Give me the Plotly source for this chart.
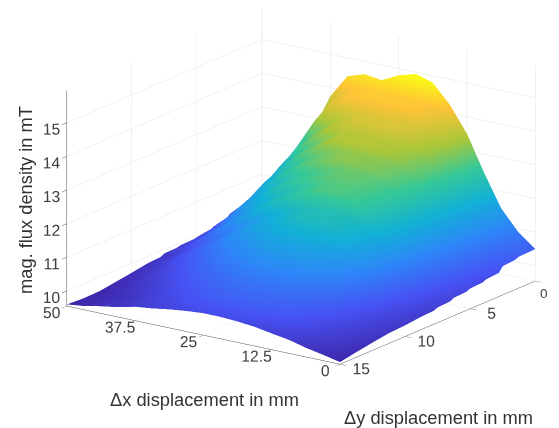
import plotly.graph_objects as go

x_mm = [0, 3.125, 6.25, 9.375, 12.5, 15.625, 18.75, 21.875, 25, 28.125, 31.25, 34.375, 37.5, 40.625, 43.75, 46.875, 50]
y_mm = [0, 0.3, 1.25, 1.55, 2.5, 2.8, 3.75, 4.05, 5, 5.3, 6.25, 6.55, 7.5, 7.8, 8.75, 10, 11.25, 12.5, 13.75, 15]
b_mT = [
    [10.50,10.90,11.50,12.45,13.50,14.25,14.80,14.95,14.80,14.55,14.62,14.45,13.75,12.65,11.85,11.05,10.40],
    [10.49,10.88,11.47,12.33,13.24,13.82,14.14,14.24,14.28,14.28,14.23,13.98,13.26,12.40,11.64,10.88,10.34],
    [10.48,10.85,11.45,12.30,13.20,13.75,14.05,14.15,14.20,14.20,14.15,13.90,13.20,12.35,11.60,10.85,10.32],
    [10.43,10.80,11.37,12.18,13.05,13.56,13.80,13.88,13.83,13.78,13.58,13.22,12.70,12.04,11.33,10.72,10.24],
    [10.40,10.78,11.35,12.15,13.00,13.50,13.72,13.80,13.75,13.70,13.50,13.15,12.65,12.00,11.30,10.70,10.22],
    [10.25,10.72,11.27,12.08,12.85,13.26,13.49,13.52,13.52,13.47,13.17,12.81,12.30,11.74,11.08,10.52,10.08],
    [10.22,10.70,11.25,12.05,12.80,13.20,13.42,13.45,13.45,13.40,13.10,12.75,12.25,11.70,11.05,10.50,10.05],
    [10.17,10.62,11.17,11.98,12.65,13.01,13.17,13.22,13.19,13.02,12.81,12.45,12.00,11.44,10.88,10.37,9.97],
    [10.15,10.60,11.15,11.95,12.60,12.95,13.10,13.15,13.12,12.95,12.75,12.40,11.95,11.40,10.85,10.35,9.95],
    [10.10,10.52,11.07,11.88,12.50,12.81,12.92,12.95,12.82,12.66,12.46,12.10,11.70,11.18,10.67,10.24,9.93],
    [10.08,10.50,11.05,11.85,12.45,12.75,12.85,12.88,12.75,12.60,12.40,12.05,11.65,11.15,10.65,10.22,9.92],
    [10.02,10.42,10.97,11.74,12.35,12.71,12.81,12.81,12.61,12.36,12.10,11.75,11.34,10.93,10.52,10.14,9.89],
    [10.00,10.40,10.95,11.70,12.30,12.65,12.75,12.75,12.55,12.30,12.05,11.70,11.30,10.90,10.50,10.12,9.88],
    [9.95,10.29,10.79,11.45,11.93,12.16,12.26,12.24,12.08,11.85,11.60,11.31,10.96,10.63,10.32,10.00,9.82],
    [9.93,10.25,10.72,11.35,11.82,12.05,12.15,12.13,11.98,11.76,11.52,11.24,10.90,10.58,10.28,9.98,9.80],
    [9.88,10.13,10.50,10.96,11.33,11.54,11.62,11.62,11.52,11.33,11.12,10.88,10.60,10.33,10.10,9.87,9.72],
    [9.85,10.03,10.32,10.65,10.93,11.10,11.18,11.18,11.11,10.96,10.78,10.57,10.34,10.14,9.95,9.78,9.65],
    [9.78,9.95,10.15,10.40,10.60,10.72,10.77,10.79,10.75,10.63,10.49,10.33,10.14,9.97,9.83,9.70,9.58],
    [9.70,9.85,10.02,10.22,10.38,10.48,10.53,10.55,10.52,10.42,10.30,10.17,10.02,9.87,9.75,9.65,9.57],
    [9.61,9.72,9.82,9.95,10.03,10.12,10.17,10.20,10.20,10.16,10.10,10.02,9.96,9.84,9.76,9.66,9.60],
]
x_ticks = [0, 12.5, 25, 37.5, 50]
x_tick_labels = ["0", "12.5", "25", "37.5", "50"]
y_ticks = [0, 5, 10, 15]
y_tick_labels = ["", "5", "10", "15"]
z_ticks = [10, 11, 12, 13, 14, 15]
parula = ["#3e26a8", "#4752f4", "#2d87f7", "#12b1d6", "#37c897", "#abc739", "#fec338", "#f9fb14"]
colorscale = [[i / (len(parula) - 1), c] for i, c in enumerate(parula)]

W, H = 586, 428
OFFSET = 8
CENTER_Z = -0.177
VIEW = (-0.55, 0.779, 0.301)
EYE_DIST = 1.9

tick_font = dict(family="Liberation Sans", size=13.7, color="#404040")
axis_common = dict(
    showbackground=False, showspikes=False, zeroline=False,
    showgrid=True, gridcolor="#e4e4e4", gridwidth=1,
    showline=True, linecolor="#555555", linewidth=1,
    ticks="outside", ticklen=8, tickcolor="#555555", tickangle=0,
    tickfont=tick_font,
    title=dict(text=""),
)

fig = go.Figure(go.Surface(
    x=x_mm, y=y_mm, z=b_mT,
    colorscale=colorscale, cmin=9.55, cmax=14.9, showscale=False,
    lighting=dict(ambient=1.0, diffuse=0.05, specular=0.0, roughness=1.0, fresnel=0.0),
    hoverinfo="skip",
))

title_font = dict(family="Liberation Sans", size=18.3, color="#333333")
fx = lambda p: (p - OFFSET) / W
fy = lambda p: 1 - (p - OFFSET) / H
fig.update_layout(
    width=W, height=H, margin=dict(l=0, r=0, t=0, b=0),
    paper_bgcolor="white", showlegend=False,
    scene=dict(
        domain=dict(x=[0.0, 1.0], y=[0.0, 1.0]),
        xaxis=dict(axis_common, range=[0, 50], tickvals=x_ticks, ticktext=x_tick_labels),
        yaxis=dict(axis_common, range=[0, 15], tickvals=y_ticks, ticktext=y_tick_labels),
        zaxis=dict(axis_common, range=[9.55, 15.95], tickvals=z_ticks),
        aspectmode="manual", aspectratio=dict(x=1.564, y=1.582, z=1.055),
        camera=dict(
            projection=dict(type="orthographic"),
            eye=dict(x=VIEW[0]*EYE_DIST, y=VIEW[1]*EYE_DIST, z=VIEW[2]*EYE_DIST + CENTER_Z),
            up=dict(x=0, y=0, z=1),
            center=dict(x=0, y=0, z=CENTER_Z),
        ),
    ),
    annotations=[
        dict(text="\u0394x displacement in mm", x=fx(204), y=fy(399), xref="paper", yref="paper",
             xanchor="center", yanchor="middle", showarrow=False, font=title_font),
        dict(text="\u0394y displacement in mm", x=fx(438), y=fy(417), xref="paper", yref="paper",
             xanchor="center", yanchor="middle", showarrow=False, font=title_font),
        dict(text="mag. flux density in mT", x=fx(25), y=fy(200), xref="paper", yref="paper",
             xanchor="center", yanchor="middle", showarrow=False, textangle=-90, font=title_font),
        dict(text="0", x=fx(544), y=fy(293), xref="paper", yref="paper",
             xanchor="center", yanchor="middle", showarrow=False, font=tick_font),
    ],
)
fig.write_html("out.html", config=dict(displayModeBar=False))
